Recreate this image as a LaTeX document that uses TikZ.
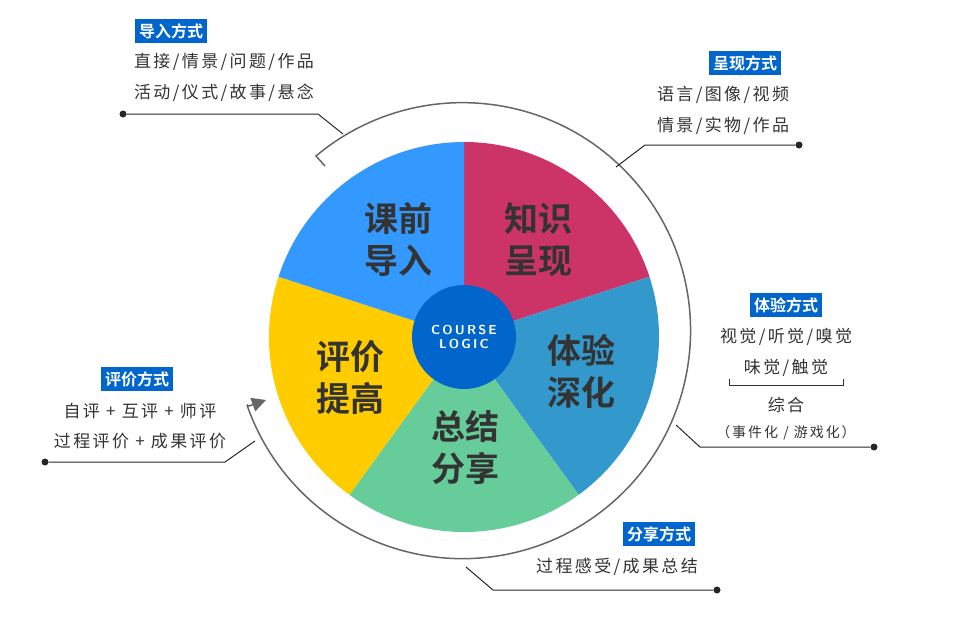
\documentclass[tikz,border=0pt]{standalone}
\usepackage{fontspec}
\setmainfont{Noto Sans CJK SC}
\newfontfamily\cjkb{Noto Sans CJK SC Bold}
\newfontfamily\cjkl[LetterSpace=14]{Noto Sans CJK SC}
\usetikzlibrary{arrows.meta}
\definecolor{cblue}{HTML}{3399FF}
\definecolor{cred}{HTML}{CC3366}
\definecolor{cteal}{HTML}{3399CC}
\definecolor{cgreen}{HTML}{66CC99}
\definecolor{cyellow}{HTML}{FFCC00}
\definecolor{cdark}{HTML}{0066CC}
\definecolor{ctext}{HTML}{333333}
\tikzset{
  tag/.style={fill=cdark,text=white,font=\cjkb\fontsize{16}{16}\selectfont,inner xsep=4pt,inner ysep=4pt},
  item/.style={text=ctext,font=\cjkl\fontsize{17}{17}\selectfont,inner sep=0pt},
  big/.style={text=ctext,font=\cjkb\fontsize{34}{42}\selectfont,align=center,inner sep=0pt},
  leader/.style={draw=black!85,line width=1pt},
  dotc/.style={circle,fill=black!85,inner sep=0pt,minimum size=7pt},
}
\begin{document}
\begin{tikzpicture}[x=1pt,y=-1pt]
\useasboundingbox (0,0) rectangle (958,618);
\coordinate (O) at (464,337);
\def\R{195}
\fill[cred] (O) -- ++(-90:\R) arc[start angle=-90,end angle=-18,radius=\R] -- cycle;
\fill[cteal] (O) -- ++(-18:\R) arc[start angle=-18,end angle=54,radius=\R] -- cycle;
\fill[cgreen] (O) -- ++(54:\R) arc[start angle=54,end angle=126,radius=\R] -- cycle;
\fill[cyellow] (O) -- ++(126:\R) arc[start angle=126,end angle=198,radius=\R] -- cycle;
\fill[cblue] (O) -- ++(198:\R) arc[start angle=198,end angle=270,radius=\R] -- cycle;
\fill[cdark] (O) circle[radius=52];
\node[text=white,font=\bfseries\sffamily\fontsize{13}{14}\selectfont,align=center] (c) at (O) {C\,O\,U\,R\,S\,E\\L\,O\,G\,I\,C};
% ring
\draw[black!60,line width=1.5pt] (325,166) -- (316,156) arc[start angle=230,end angle=521,radius=228] coordinate (re);
\draw[black!60,line width=1.5pt,-{Triangle[length=14pt,width=14pt]}] (re) -- (249,406) -- (266,400);
% big labels
\node[big] (a) at (398,240) {课前\\导入};
\node[big] (b) at (538,240) {知识\\呈现};
\node[big] (d) at (581,371) {体验\\深化};
\node[big] (e) at (465,448) {总结\\分享};
\node[big] (f) at (350,378) {评价\\提高};
% leaders
\node[dotc] (p1) at (123,114) {}; \draw[leader] (p1) -- (318,114) -- (343,134);
\node[dotc] (p2) at (799,145) {}; \draw[leader] (p2) -- (645,145) -- (616,167);
\node[dotc] (p3) at (874,447) {}; \draw[leader] (p3) -- (700,447) -- (676,425);
\node[dotc] (p4) at (717,590) {}; \draw[leader] (p4) -- (493,590) -- (466,567);
\node[dotc] (p5) at (45,462) {}; \draw[leader] (p5) -- (225,462) -- (255,441);
% texts
\node[tag] (t1) at (171,31) {导入方式};
\node[item] (t1a) at (224,62) {直接/情景/问题/作品};
\node[item] (t1b) at (224,93) {活动/仪式/故事/悬念};
\node[tag] (t2) at (745,63) {呈现方式};
\node[item] (t2a) at (723,95) {语言/图像/视频};
\node[item] (t2b) at (723,126) {情景/实物/作品};
\node[tag] (t3) at (786,305) {体验方式};
\node[item] (t3a) at (786,337) {视觉/听觉/嗅觉};
\node[item] (t3b) at (786,368) {味觉/触觉};
\draw[black!80,line width=0.8pt] (729,379) -- (729,385) -- (843,385) -- (843,379);
\node[item] (t3c) at (786,405) {综合};
\node[item,font=\cjkl\fontsize{14}{14}\selectfont] (t3d) at (786,433) {（事件化 / 游戏化）};
\node[tag] (t4) at (137,379) {评价方式};
\node[item] (t4a) at (140,411) {自评 + 互评 + 师评};
\node[item] (t4b) at (140,441) {过程评价 + 成果评价};
\node[tag] (t5) at (659,534) {分享方式};
\node[item] (t5a) at (617,567) {过程感受/成果总结};
\end{tikzpicture}
\end{document}
